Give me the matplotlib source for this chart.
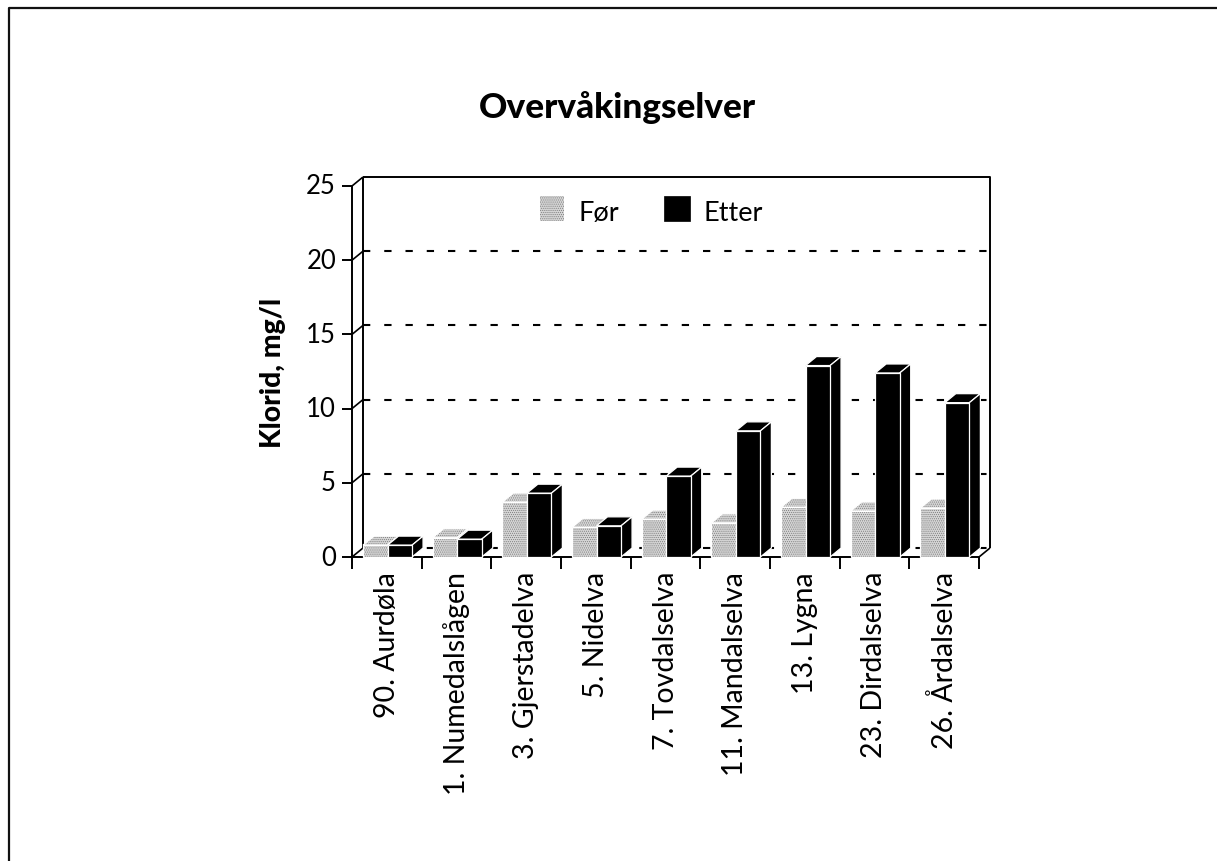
#!/usr/bin/env python3
import matplotlib
matplotlib.use('Agg')
import matplotlib.pyplot as plt
from matplotlib.patches import Polygon, Rectangle

matplotlib.rcParams['font.family'] = ['Lato', 'DejaVu Sans']
matplotlib.rcParams['hatch.linewidth'] = 0.5

elver = ['90. Aurdøla', '1. Numedalslågen', '3. Gjerstadelva', '5. Nidelva', '7. Tovdalselva',
         '11. Mandalselva', '13. Lygna', '23. Dirdalselva', '26. Årdalselva']
for_vals = [0.8, 1.3, 3.7, 2.0, 2.55, 2.3, 3.35, 3.1, 3.3]
etter_vals = [0.8, 1.2, 4.3, 2.1, 5.45, 8.5, 12.9, 12.4, 10.4]
y_ticks = [0, 5, 10, 15, 20, 25]

W, H = 1217, 862
fig = plt.figure(figsize=(W / 100, H / 100), dpi=100)
ax = fig.add_axes([352 / W, 1 - 558 / H, (979 - 352) / W, (558 - 187) / H])
ax.set_xlim(0, len(elver))
ax.set_ylim(0, 25)
ax.axis('off')

# pixels to data units
px = 1 / 69.7
py = 1 / 14.84
dx = 11 * px
dy = 9 * py
bw = 0.352
x0 = 0.158
grey = '#d6d6d6'
stipple = '#7c7c7c'


def bar3d(x, v, face, hatch=None, z=3):
    top = [(x, v), (x + dx, v + dy), (x + bw + dx, v + dy), (x + bw, v)]
    side = [(x + bw, 0), (x + bw + dx, dy), (x + bw + dx, v + dy), (x + bw, v)]
    front = [(x, 0), (x, v), (x + bw, v), (x + bw, 0)]
    for pts in (top, side, front):
        ax.add_patch(Polygon(pts, fc=face, ec=stipple if hatch else face, lw=0, hatch=hatch, zorder=z,
                             clip_on=False))
        ax.add_patch(Polygon(pts, fill=False, ec='white', lw=0.9, zorder=z, clip_on=False))


k = dict(color='black', clip_on=False, solid_capstyle='butt')
n = len(elver)
dash = dict(color='black', lw=1.5, dashes=(3.5, 6.7), zorder=1, clip_on=False)

# gridlines on back wall, the floor edge is the same dashed line
for t in y_ticks[:-1]:
    ax.plot([dx, n + dx], [t + dy, t + dy], **dash)

# walls
ax.plot([0, 0], [0, 25], lw=1.4, **k)
ax.plot([dx, dx], [dy, 25 + dy], lw=1.4, **k)
ax.plot([dx, n + dx, n + dx], [25 + dy, 25 + dy, dy], lw=1.4, **k)
ax.plot([0, n], [0, 0], lw=1.4, zorder=2, **k)
ax.plot([n, n + dx], [0, dy], lw=1.2, zorder=2, **k)
for t in y_ticks:
    ax.plot([0, dx], [t, t + dy], lw=1.2, **k)
    ax.plot([-10 * px, 0], [t, t], lw=1.4, **k)
    ax.text(-16 * px, t, str(t), ha='right', va='center', fontsize=18.5)
for i in range(n + 1):
    ax.plot([i, i], [0, -12 * py], lw=1.4, **k)

for i in range(n):
    bar3d(i + x0, for_vals[i], grey, hatch='........', z=3 + i)
    bar3d(i + x0 + bw, etter_vals[i], 'black', z=3.5 + i)
    ax.text(i + 0.5, -14 * py, elver[i], rotation=90, ha='center', va='top', fontsize=20.5)

# legend
ax.add_patch(Rectangle(((540 - 352) * px, (558 - 222) * py), 24 * px, 25 * py, fc=grey, ec=stipple, lw=0,
                       hatch='........', clip_on=False))
ax.add_patch(Rectangle(((664 - 352) * px, (558 - 222) * py), 26 * px, 25 * py, fc='black', ec='black', lw=0.5,
                       clip_on=False))
ax.text((579 - 352) * px, (558 - 213) * py, 'Før', va='center', fontsize=19.5)
ax.text((704 - 352) * px, (558 - 213) * py, 'Etter', va='center', fontsize=19.5)

fig.text(617 / W, 1 - 107 / H, 'Overvåkingselver', ha='center', va='center', fontsize=25.3, fontweight='black')
fig.text(273 / W, 1 - 373 / H, 'Klorid, mg/l', rotation=90, ha='center', va='center', fontsize=20.3,
         fontweight='black')

# page edge, top and left only
fig.add_artist(plt.Line2D([9 / W, 9 / W, 1], [0, 1 - 9 / H, 1 - 9 / H], color='#111111', lw=1.6))

fig.savefig('out.png', dpi=100)
